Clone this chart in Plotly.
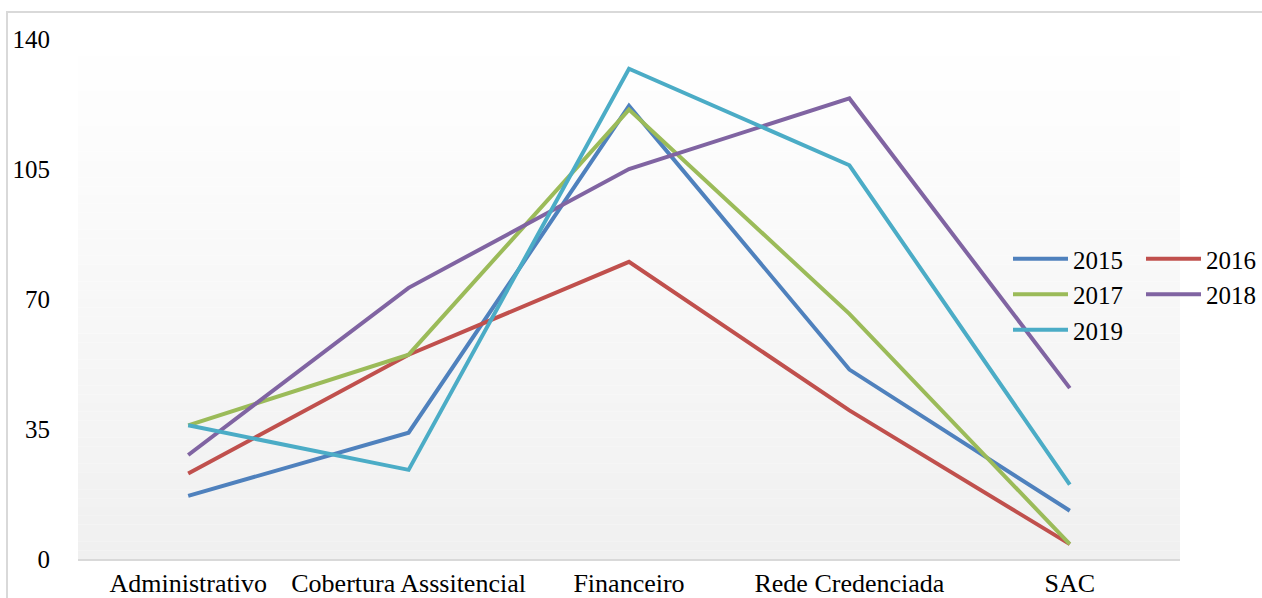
import plotly.graph_objects as go

categories = ["Administrativo", "Cobertura Asssitencial", "Financeiro", "Rede Credenciada", "SAC"]
years = ["2015", "2016", "2017", "2018", "2019"]
v2015 = [17, 34, 122, 51, 13]
v2016 = [23, 55, 80, 40, 4]
v2017 = [36, 55, 121, 66, 4]
v2018 = [28, 73, 105, 124, 46]
v2019 = [36, 24, 132, 106, 20]
series = [v2015, v2016, v2017, v2018, v2019]
y_ticks = [0, 35, 70, 105, 140]

colors = ["#4F81BD", "#C0504D", "#9BBB59", "#8064A2", "#4BACC6"]
legend_of = ["legend", "legend2", "legend", "legend2", "legend"]

FONT = '"Liberation Serif", "Times New Roman", "DejaVu Serif", serif'
W, H = 1262, 598
ML, MR, MT, MB = 78, 82, 39, 39
pw = W - ML - MR
ph = H - MT - MB

fig = go.Figure()
for name, vals, c, lg in zip(years, series, colors, legend_of):
    fig.add_trace(go.Scatter(x=categories, y=vals, name=name, mode="lines",
                             line=dict(color=c, width=4), legend=lg))

# gradient background of plot area
shapes = []
n = 60
for i in range(n):
    t = i / n
    g = round(255 - 15 * (1 - (i + 0.5) / n))
    shapes.append(dict(type="rect", xref="paper", yref="paper", x0=0, x1=1,
                       y0=t, y1=(i + 1) / n, line=dict(width=0),
                       fillcolor=f"rgb({g},{g},{g})", layer="below"))
# outer chart border
shapes.append(dict(type="rect", xref="paper", yref="paper",
                   x0=(7 - ML) / pw, x1=(1320 - ML) / pw,
                   y0=(ph + MT - 12) / ph, y1=-(MB + 30) / ph,
                   line=dict(color="#d9d9d9", width=2), fillcolor="rgba(0,0,0,0)",
                   layer="below"))

def lx(px):
    return (px - ML) / pw

def ly(py):
    return (ph + MT - py) / ph

leg_common = dict(font=dict(family=FONT, size=25, color="black"),
                  bgcolor="rgba(0,0,0,0)", borderwidth=0, itemwidth=55,
                  xanchor="left", yanchor="top", tracegroupgap=0,
                  itemclick=False)

fig.update_layout(
    width=W, height=H,
    margin=dict(l=ML, r=MR, t=MT, b=MB, autoexpand=False),
    paper_bgcolor="white",
    plot_bgcolor="rgba(0,0,0,0)",
    font=dict(family=FONT, size=25, color="black"),
    shapes=shapes,
    showlegend=True,
    legend=dict(x=lx(1008), y=ly(236), **leg_common),
    legend2=dict(x=lx(1141), y=ly(236), **leg_common),
    xaxis=dict(type="category", range=[-0.5, 4.5], showgrid=False, zeroline=False,
               showline=True, linecolor="#d9d9d9", linewidth=2, automargin=False,
               ticks="",
               tickfont=dict(family=FONT, size=26, color="black")),
    yaxis=dict(range=[0, 140], tickvals=y_ticks, showgrid=False, zeroline=False,
               showline=False, ticks="outside", ticklen=22, tickcolor="rgba(0,0,0,0)",
               automargin=False,
               tickfont=dict(family=FONT, size=25, color="black")),
)

fig.write_html("out.html")
